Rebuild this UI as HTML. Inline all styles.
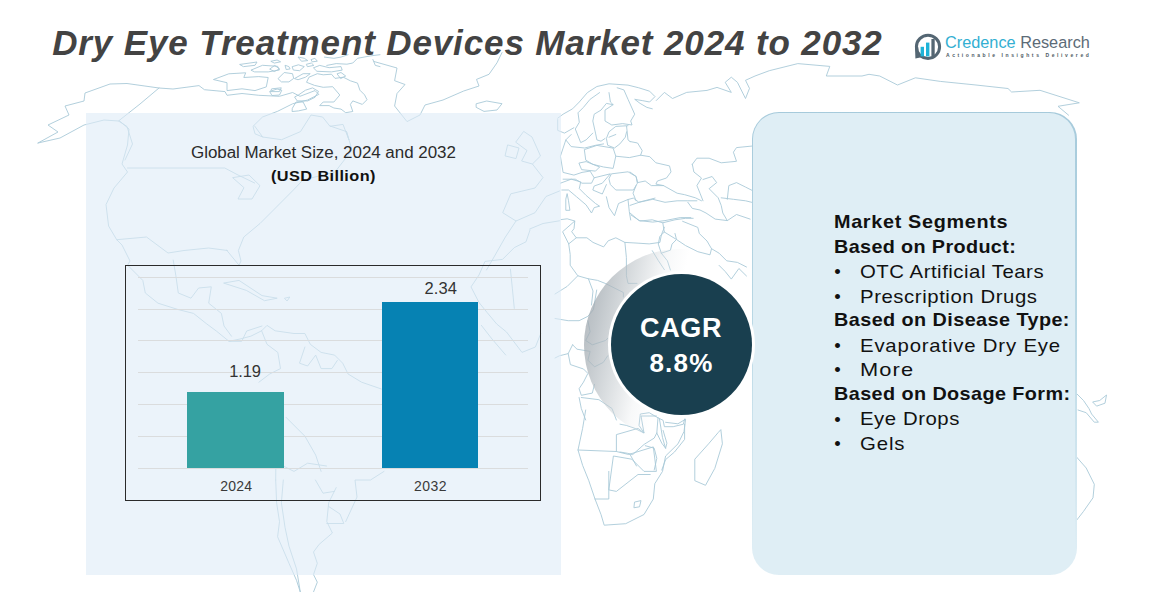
<!DOCTYPE html>
<html><head><meta charset="utf-8">
<style>
html,body{margin:0;padding:0;}
body{width:1173px;height:592px;position:relative;overflow:hidden;background:#fff;font-family:"Liberation Sans",sans-serif;}
.abs{position:absolute;}
.t{position:absolute;white-space:nowrap;line-height:1;}
.grid{position:absolute;left:138px;width:390px;height:1px;background:#dadcdd;}
</style></head>
<body>
<svg class="abs" style="left:0;top:0" width="1173" height="592" viewBox="0 0 1173 592"><g fill="none" stroke="#a9cad8" stroke-width="0.9" stroke-linejoin="round" stroke-linecap="round"><path d="M38.0 143.0 L58.0 132.0 L48.0 125.0 L69.0 115.0 L65.0 106.0 L84.0 101.0 L85.0 93.0 L110.0 84.0 L127.0 83.5 L159.0 88.0 L173.0 89.0 L199.0 85.6 L204.4 89.7 L225.0 91.6 L227.0 95.3 L242.0 93.5 L258.8 95.3 L279.4 96.3 L292.6 92.5 L300.0 96.3 L315.0 90.6 L318.8 94.4 L307.6 100.0 L292.6 103.8 L277.6 111.3 L262.5 117.0 L253.0 126.3 L255.0 133.8 L262.7 137.0 L281.6 139.7 L300.5 131.6 L311.0 115.0 L322.6 117.0 L330.0 126.3 L343.0 124.4 L349.0 140.0 L346.5 131.6"/><path d="M38.0 143.0 L60.0 138.0 L84.0 125.0 L104.0 120.0 L118.5 121.0 L127.0 126.5 L132.5 144.0 L125.0 160.0"/><path d="M159.0 88.0 L140.0 104.0 L118.5 121.0"/><path d="M213.8 79.4 L228.8 73.8 L245.7 72.8 L243.8 77.5 L258.8 76.6 L268.2 77.5 L266.3 86.9 L255.0 90.6 L242.0 88.8 L227.0 90.6 L227.0 83.1 Z"/><path d="M240.0 64.4 L257.0 62.0 L255.0 65.3 L243.8 66.6 Z"/><path d="M251.3 70.0 L262.5 65.3 L277.6 66.3 L279.4 70.0 L268.2 71.9 L255.0 71.9 Z"/><path d="M272.0 88.8 L281.3 87.8 L279.4 91.6 L271.0 91.6 Z"/><path d="M374.0 61.5 L397.0 68.0 L394.6 80.7 L405.0 84.5 L397.0 93.5 L394.6 106.0 L407.0 121.6 L420.0 115.0 L425.0 105.0 L443.0 100.0 L463.7 91.0 L479.0 86.0 L476.5 79.4 L489.0 74.3 L497.0 62.8 L502.0 52.6"/><path d="M476.5 103.7 L486.7 101.0 L502.0 103.7 L497.0 110.0 L484.0 111.4 L476.5 107.5 Z"/><path d="M119.4 120.8 L129.0 129.0 L127.5 145.0 L122.0 164.0 L127.5 172.0 L114.0 188.0 L106.0 204.6 L108.6 226.0 L116.7 239.7 L122.0 245.0 L130.0 261.0 L127.6 265.2 L142.8 280.4 L145.3 293.0 L158.0 303.2 L178.3 309.6 L193.5 313.4 L206.2 323.5 L216.3 331.0 L229.0 341.3 L241.7 341.3 L246.7 331.0 L262.0 326.0"/><path d="M127.5 168.0 L224.8 168.0 L238.0 175.0 L254.6 183.0"/><path d="M233.0 177.6 L249.0 175.0 L260.0 185.7 L252.0 199.0 L238.0 199.0 L243.8 188.0 Z"/><path d="M303.0 180.0 L292.4 191.0 L273.5 210.0 L260.0 223.5 L243.8 237.0 L238.4 250.5 L241.0 261.0 L239.0 265.2 L226.5 250.0 L227.5 250.5 L208.6 248.0 L184.0 250.5 L168.0 253.0 L146.5 237.0 L116.7 239.7"/><path d="M254.6 126.0 L262.7 137.0"/><path d="M330.0 126.0 L346.5 131.6 L352.0 150.0 L335.0 172.0 L303.0 180.0"/><path d="M173.2 260.0 L175.8 275.3 L178.3 293.0 L191.0 298.2 L198.6 288.0 L211.3 286.8 L208.7 303.2 L221.4 313.4 L224.0 326.0 L231.5 336.2"/><path d="M224.0 283.0 L239.0 280.4 L262.0 295.6 L277.2 298.2 L264.5 300.7 L246.7 290.6 Z"/><path d="M284.8 298.2 L289.8 297.0 L287.3 300.7 Z"/><path d="M384.0 471.4 L370.5 480.0 L355.0 480.0 L357.0 497.0 L345.7 521.6"/><path d="M275.7 480.0 L276.6 502.7 L279.5 521.6 L277.6 536.8 L289.0 563.3 L296.5 580.3 L300.3 592.0"/><path d="M283.3 480.0 L281.4 502.7 L285.0 527.3 L289.0 546.2 L296.5 568.9 L300.3 592.0"/><path d="M336.2 487.6 L328.7 502.7 L326.8 521.6 L332.4 533.0 L319.2 544.3 L313.5 552.0 L317.3 563.3 L313.5 574.6 L317.3 582.2 L313.5 592.0"/><path d="M328.7 506.5 L340.0 514.0 L343.8 523.5 L326.8 523.5"/><path d="M315.4 480.0 L323.0 493.2 L334.3 491.4"/><path d="M279.0 420.0 L276.0 450.0 L275.7 480.0"/><path d="M524.0 131.6 L532.0 137.0 L540.5 156.0 L532.4 164.0 L521.6 161.0 L527.0 150.5 L516.0 142.4 Z"/><path d="M508.0 145.0 L519.0 148.0 L516.0 158.6 L505.4 156.0 Z"/><path d="M532.4 164.0 L543.0 177.6 L535.0 188.0 L510.8 193.8 L502.7 212.7 L516.0 221.0 L535.0 212.7 L546.0 196.5 L559.5 191.0"/><path d="M516.0 221.0 L505.4 237.0 L494.6 256.0 L486.5 270.0"/><path d="M529.7 229.0 L543.0 223.5 L559.5 220.8"/><path d="M530.0 230.0 L526.0 241.8 L514.3 247.6 L502.5 259.4 L485.0 261.4 L479.0 275.0 L471.0 286.9 L479.0 302.5 L487.0 312.4 L496.7 324.0 L506.5 332.0 L522.0 352.4 L535.4 347.0 L540.8 333.5"/><path d="M510.4 269.2 L512.4 288.8 L514.3 308.4"/><path d="M481.4 325.4 L492.0 339.0 L505.7 355.0"/><path d="M656.3 100.5 L664.4 92.4 L672.5 98.5 L686.7 92.4 L707.0 90.4 L717.0 87.4 L731.3 92.4 L725.2 82.3 L731.3 77.2 L737.4 82.3 L745.5 98.5 L749.5 88.4 L745.5 80.3 L755.0 76.0 L769.3 70.7 L797.8 63.6 L829.8 66.4 L826.3 76.0 L862.0 76.0 L869.0 74.3 L879.7 76.0 L897.5 85.0 L915.4 77.8 L940.3 81.4 L976.0 85.0 L1008.0 88.5 L1011.6 92.0 L1040.0 90.3 L1079.3 102.8 L1058.0 106.3 L1068.6 115.2"/><path d="M585.7 410.0 L582.6 428.4 L578.0 450.0 L582.6 465.3 L588.8 480.7 L595.0 499.0 L601.0 514.5 L604.2 525.2 L625.7 523.7 L644.0 514.5 L653.3 499.0 L654.8 483.7 L662.5 471.4 L665.6 456.0 L678.0 443.8 L684.0 431.5 L685.6 419.2 L677.9 423.8 L665.6 422.3"/><path d="M720.9 430.0 L722.4 443.8 L714.8 468.4 L705.5 485.3 L694.8 480.7 L694.8 459.2 L708.6 443.8 L717.8 433.0 Z"/><path d="M578.0 450.0 L616.4 451.5 L628.7 454.5 L653.3 446.9 L656.4 471.4 L644.0 471.4 L631.8 459.2 L613.4 456.0 L608.8 489.9 L616.4 491.4 L638.0 474.5 L650.2 474.5"/><path d="M595.0 499.0 L608.8 499.0 L608.8 471.4"/><path d="M616.4 451.5 L616.4 434.6 L638.0 428.4 L644.0 433.0 L641.0 416.0 L656.4 416.0"/><path d="M659.5 419.2 L662.5 437.6 L665.6 448.4"/><path d="M634.9 502.0 L641.0 500.6 L639.5 506.8 L634.3 507.7 Z"/><path d="M1076.8 393.8 L1083.5 400.5 L1089.0 408.6 L1091.6 414.0 L1098.4 422.2 L1094.3 422.2 L1086.2 412.7 L1078.0 410.0"/><path d="M1093.0 401.9 L1099.7 400.5 L1106.5 395.0 L1105.0 403.2 L1097.0 406.0 Z"/><path d="M1076.8 457.3 L1086.2 468.0 L1094.3 484.3 L1093.0 497.8 L1083.5 511.4 L1076.8 520.0"/><path d="M557.7 118.2 L563.1 114.2 L572.6 108.8 L579.3 102.0 L587.4 92.6 L596.9 86.5 L609.0 83.8 L628.0 85.1 L638.8 87.8 L649.6 91.2 L655.0 96.6 L649.6 102.0 L642.8 100.7 L634.7 99.3 L640.1 103.4 L646.9 107.4 L652.3 108.8"/><path d="M599.6 92.6 L590.1 99.3 L583.4 107.4 L578.0 112.8 L579.3 122.3 L575.3 129.0 L580.7 142.6 L586.1 139.9 L592.8 133.1"/><path d="M557.7 119.6 L557.7 130.4 L564.5 133.1 L573.9 127.7"/><path d="M609.0 92.6 L610.4 102.0 L613.1 104.7 L606.4 103.4 L601.0 110.1 L594.2 114.2 L592.8 121.0 L595.5 133.1 L596.9 139.9 L601.0 141.2 L605.0 138.5"/><path d="M613.1 104.7 L605.0 110.1 L605.0 121.0 L611.8 125.0 L622.6 123.6 L632.0 125.0 L630.7 121.0 L634.7 114.2 L628.0 99.3 L623.9 89.9 L617.2 87.8"/><path d="M628.0 125.7 L615.8 126.4 L609.0 131.8 L606.4 138.5 L607.7 145.3 L614.5 148.0 L619.9 143.9 L625.3 137.2 L626.6 131.8"/><path d="M615.8 134.5 L609.0 137.2"/><path d="M626.6 126.4 L628.0 139.9 L630.0 141.5"/><path d="M571.2 134.5 L565.8 139.9 L571.2 146.6 L584.7 148.0 L595.5 145.3 L603.6 143.9"/><path d="M565.8 140.0 L563.1 148.1 L560.4 156.2 L563.1 172.4 L573.9 175.1 L582.0 172.4 L590.1 171.1 L594.2 177.8 L591.5 183.2 L582.0 183.2 L575.3 179.2 L563.1 179.2"/><path d="M584.7 149.5 L596.9 145.4 L613.1 148.1 L615.8 156.2 L613.1 168.4 L603.6 167.0 L592.8 164.3 L586.1 160.3 Z"/><path d="M579.3 163.0 L586.1 161.6 L599.6 167.0 L595.5 171.1 L582.0 169.7 Z"/><path d="M615.8 156.2 L629.3 157.6 L640.6 155.2"/><path d="M611.8 173.8 L628.0 171.8 L636.1 176.5 L637.4 183.2 L633.4 190.0 L615.8 190.0 L610.4 184.6 L609.0 179.2 Z"/><path d="M594.2 177.8 L610.4 173.8 L602.3 183.2 L594.2 186.0 L592.8 190.0 L602.3 194.0 L606.4 184.6"/><path d="M560.4 183.2 L571.2 179.2 L580.7 181.9 L579.3 188.6 L586.1 195.4 L595.5 203.5 L599.6 206.2 L594.2 207.6 L591.5 213.0 L586.1 204.9 L576.6 196.8 L568.5 190.0 L561.8 190.0"/><path d="M567.2 194.0 L568.5 200.8 L569.9 210.3 L565.8 210.3 L565.8 199.5 Z"/><path d="M606.4 196.8 L609.0 207.6 L614.5 215.7 L618.5 203.5 L628.0 199.5 L633.4 198.1 L638.8 202.2 L655.0 198.1"/><path d="M628.0 199.5 L629.3 211.6 L630.7 220.0"/><path d="M561.0 219.6 L567.2 218.8 L574.8 221.0 L574.0 228.7 L571.7 231.7 L576.3 237.8 L586.9 237.8 L593.0 242.4 L603.6 246.9 L608.2 240.8 L615.8 237.8 L624.9 242.4 L637.0 243.1 L649.2 243.9 L659.9 242.4 L661.4 234.8 L664.4 227.2"/><path d="M574.8 221.0 L562.6 231.7 L568.7 243.9 L576.3 237.8"/><path d="M568.7 243.9 L570.2 254.5 L570.2 265.2 L577.8 275.8 L588.4 278.8 L593.0 291.0 L591.5 305.0"/><path d="M577.8 275.8 L567.2 286.4 L555.0 294.0"/><path d="M588.4 278.8 L597.6 280.4 L605.2 283.4 L623.4 292.5 L623.4 297.0"/><path d="M624.9 242.4 L626.4 257.6 L626.4 275.8 L628.0 283.4 L637.0 283.4"/><path d="M652.3 250.7 L658.3 260.6 L664.4 269.7"/><path d="M631.0 215.0 L640.0 221.0 L652.2 219.8 L662.8 222.8 L675.0 219.8 L685.6 218.3 L693.2 218.3"/><path d="M662.8 222.8 L664.3 232.0 L659.8 236.5 L658.3 244.1 L661.3 253.2"/><path d="M675.0 233.5 L676.5 239.5 L672.0 244.1 L670.4 250.2 L661.3 253.2"/><path d="M682.6 221.3 L697.8 227.4 L699.3 233.5 L707.0 241.0 L711.5 248.7 L710.0 254.8 L697.8 251.7 L685.6 245.6 L676.5 239.5 L664.3 232.0"/><path d="M711.5 248.7 L719.1 253.2 L726.7 260.8 L737.4 262.4 L746.5 267.0"/><path d="M719.1 265.4 L725.2 271.5 L731.3 279.1 L738.9 268.5 L746.5 276.0"/><path d="M661.3 253.2 L667.4 260.8 L670.4 270.0"/><path d="M555.0 318.5 L568.2 320.7 L579.1 320.7 L587.9 316.3 L593.4 309.7 L596.7 290.0"/><path d="M587.9 320.7 L590.1 331.7 L585.7 340.5 L592.3 344.8 L605.5 340.5 L607.7 338.3"/><path d="M572.6 344.8 L568.2 353.6 L559.4 355.8 L555.0 358.0"/><path d="M572.6 344.8 L577.0 349.2 L590.1 351.4 L587.9 360.2 L594.5 366.8 L603.3 362.4 L607.7 355.8"/><path d="M568.2 353.6 L570.4 364.6 L583.5 369.0 L587.9 373.4 L583.5 382.1 L579.1 388.7 L581.3 395.3 L592.3 393.1 L594.5 384.3"/><path d="M579.1 397.5 L581.3 408.5 L585.7 420.0"/><path d="M581.3 397.5 L598.9 399.7 L612.0 408.5 L616.4 420.0"/><path d="M620.0 424.2 L626.3 425.4 L634.0 428.0 L644.1 433.0 L639.0 425.4 L640.3 414.0 L649.2 412.7 L658.0 417.8 L663.1 420.3 L664.4 426.7 L673.2 426.7 L683.4 424.2 L684.6 419.0"/><path d="M658.0 417.8 L656.8 433.0 L661.8 443.2 L665.6 448.2 L666.9 443.2 L663.1 430.5"/><path d="M684.6 424.2 L684.6 439.4 L674.5 452.0 L665.6 459.6 L661.8 470.0"/><path d="M620.0 452.0 L627.6 453.3 L632.7 454.6 L644.1 444.4 L654.2 438.1 L656.8 433.0"/><path d="M630.1 454.6 L636.5 466.0"/><path d="M645.3 445.7 L654.2 448.2 L656.8 458.4 L654.2 470.0"/><path d="M306.7 81.9 L309.0 77.2 L317.3 73.7 L323.2 74.8 L331.5 74.2 L335.0 78.4 L343.3 77.2 L350.4 80.8 L357.5 83.1 L359.9 90.2 L364.6 94.9 L367.0 99.7 L362.3 104.4 L352.8 100.9 L350.4 104.4 L352.8 111.5 L345.7 112.7 L341.0 109.1 L333.9 108.0 L329.1 105.6 L319.7 105.6 L323.2 102.0 L333.9 102.0 L339.8 95.0 L332.7 86.7 L323.2 87.3 L315.0 85.5 Z"/><path d="M292.5 108.0 L296.0 102.0 L303.1 102.0 L306.7 109.1 L298.4 110.9 L292.5 111.5 Z"/><path d="M298.4 95.0 L305.5 90.2 L312.6 87.9 L318.5 91.4 L315.0 97.3 L307.8 100.9 L297.2 100.9 L294.8 97.3 Z"/><path d="M278.3 78.4 L284.2 72.5 L292.5 73.7 L293.7 78.4 L288.9 81.9 L281.8 81.9 Z"/><path d="M270.0 91.4 L277.1 89.0 L281.8 90.2 L279.5 95.0 L272.4 95.5 Z"/><path d="M294.8 78.4 L303.1 73.7 L310.2 73.7 L305.5 77.2 L298.4 79.6 Z"/><path d="M292.5 66.6 L298.4 64.8 L304.3 66.6 L299.6 70.7 L293.7 70.1 Z"/><path d="M285.4 65.4 L288.9 66.6 L290.1 68.9 L286.6 69.5 Z"/><path d="M271.2 61.2 L277.1 60.0 L280.6 61.8 L274.7 63.0 Z"/><path d="M270.0 68.9 L274.7 65.4 L279.5 68.9 L274.7 71.3 Z"/><path d="M298.4 57.1 L304.3 58.3 L307.8 60.6 L301.9 61.2 Z"/><path d="M311.4 59.5 L314.9 58.3 L317.3 61.2 L312.6 61.8 Z"/><path d="M306.7 64.2 L311.4 63.0 L313.8 65.4 L307.8 66.6 Z"/><path d="M313.8 67.7 L319.7 65.4 L329.1 67.7 L341.0 66.6 L342.2 70.1 L331.5 71.9 L317.3 71.3 Z"/><path d="M337.4 73.7 L341.0 72.5 L345.7 76.0 L341.0 78.4 Z"/><path d="M326.8 65.4 L336.2 63.6 L346.9 64.2 L352.8 63.0 L357.5 58.3 L370.5 55.9 L380.0 54.7"/><path d="M324.4 57.1 L333.9 58.3 L341.0 57.1 L348.1 54.7"/><path d="M372.9 59.5 L375.3 65.4 L380.0 66.6"/><path d="M229.0 341.3 L240.0 339.0 L250.8 336.2 L261.6 330.8 L267.0 325.4 L275.1 330.8 L294.0 333.5 L304.9 333.5 L310.3 344.3 L321.1 352.4 L334.6 355.1 L342.7 363.2 L348.1 374.0 L361.6 382.2 L381.4 389.0"/><path d="M261.6 330.8 L267.0 344.3 L277.8 352.4 L280.5 368.6 L269.7 374.0 L258.9 382.2"/><path d="M304.9 347.0 L299.5 363.2 L307.6 366.0 L315.7 355.1 L321.1 368.6 L331.9 368.6 L337.3 360.5"/><path d="M286.0 417.3 L296.8 428.1 L304.9 436.2 L315.7 455.1 L321.1 471.4"/><path d="M283.2 466.0 L294.0 471.4 L307.6 463.2 L326.5 466.0"/><path d="M630.0 141.5 L637.6 143.0 L642.2 150.6 L640.6 155.2 L649.8 156.7 L655.9 162.8 L669.5 165.9 L671.0 171.9 L666.5 178.0 L657.4 181.0 L655.9 184.1 L663.5 185.6"/><path d="M630.0 172.0 L636.1 176.5 L637.6 182.6 L645.2 181.0 L651.3 185.6 L663.5 185.6 L677.1 193.2 L684.7 194.7 L695.4 197.8 L701.5 200.8"/><path d="M630.0 205.4 L639.1 202.3 L652.8 199.3 L665.0 202.3 L677.1 200.8 L687.8 200.8 L696.9 200.8"/><path d="M636.1 185.6 L633.0 193.2 L636.1 200.8"/><path d="M630.0 213.0 L639.1 220.6 L652.8 222.1 L665.0 220.6 L680.2 217.6 L690.8 217.6"/><path d="M687.8 202.3 L692.3 208.4 L700.0 210.0 L706.0 213.0 L715.2 219.1 L727.3 220.6 L736.5 214.5 L750.1 219.1"/><path d="M692.3 164.3 L696.9 158.2 L709.1 158.2 L721.2 162.8 L736.5 161.3 L733.4 152.2 L736.5 147.6 L751.7 146.1"/><path d="M692.3 164.3 L693.9 172.0 L701.5 178.0 L696.9 185.6 L700.0 193.2 L703.0 200.8"/><path d="M703.0 179.5 L712.1 176.5 L716.7 182.6 L709.1 188.7 L718.2 197.8 L721.2 205.4 L722.8 213.0 L727.3 220.6"/><path d="M727.3 199.3 L728.8 185.6 L736.5 182.6 L745.6 187.1 L751.7 190.2"/><path d="M721.2 197.8 L733.4 199.3 L745.6 200.8 L751.7 202.3"/></g></svg>
<div class="abs" style="left:86.3px;top:112.7px;width:474.5px;height:462px;background:rgba(223,236,247,0.62);"></div>
<div class="abs" style="left:584px;top:249px;width:192px;height:192px;border-radius:50%;background:linear-gradient(103deg,rgba(150,158,165,0.8) 0%,rgba(168,176,182,0.72) 12%,rgba(198,204,208,0.58) 25%,rgba(232,235,237,0.32) 36%,rgba(255,255,255,0) 45%);"></div>
<div class="abs" style="left:751.5px;top:111.5px;width:325px;height:463px;background:linear-gradient(180deg,#A6CADB 0%,#B9D8E5 45%,#DFEEF5 95%);border-radius:27px;"></div>
<div class="abs" style="left:752.7px;top:112.8px;width:322.6px;height:461px;background:#DFEEF5;border-radius:26px;"></div>
<div class="abs" style="left:607.5px;top:270.5px;width:147px;height:147px;border-radius:50%;background:#fff;"></div>
<div class="abs" style="left:610.5px;top:273.5px;width:141px;height:141px;border-radius:50%;background:#193F4F;"></div>
<div class="abs" style="left:125px;top:264.5px;width:414px;height:234px;border:1.5px solid #2a2a2a;"></div>
<div class="grid" style="top:277px"></div>
<div class="grid" style="top:308.5px"></div>
<div class="grid" style="top:340px"></div>
<div class="grid" style="top:372px"></div>
<div class="grid" style="top:404px"></div>
<div class="grid" style="top:436px"></div>
<div class="grid" style="top:468px"></div>
<div class="abs" style="left:187px;top:392px;width:96.5px;height:76px;background:#35A2A2;"></div>
<div class="abs" style="left:382.3px;top:301.5px;width:95.7px;height:166.5px;background:#0682B3;"></div>
<div class="t" style="left:52.2px;top:24.97px;font-size:35px;font-weight:bold;font-style:italic;letter-spacing:0.873px;color:#434343;transform:scaleX(1.0);transform-origin:0 0;">Dry Eye Treatment Devices Market 2024 to 2032</div>
<div class="t" style="left:190.6px;top:145.46px;font-size:16px;font-weight:normal;font-style:normal;letter-spacing:-0.029px;color:#2b2b2b;transform:scaleX(1.06);transform-origin:0 0;">Global Market Size, 2024 and 2032</div>
<div class="t" style="left:271.0px;top:167.88px;font-size:15.5px;font-weight:bold;font-style:normal;letter-spacing:0.397px;color:#111;transform:scaleX(1.05);transform-origin:0 0;">(USD Billion)</div>
<div class="t" style="left:229.3px;top:363.03px;font-size:16.5px;font-weight:normal;font-style:normal;letter-spacing:-0.201px;color:#333;transform:scaleX(1.0);transform-origin:0 0;">1.19</div>
<div class="t" style="left:424.5px;top:280.03px;font-size:16.5px;font-weight:normal;font-style:normal;letter-spacing:0.134px;color:#333;transform:scaleX(1.0);transform-origin:0 0;">2.34</div>
<div class="t" style="left:220.2px;top:478.55px;font-size:14px;font-weight:normal;font-style:normal;letter-spacing:0.266px;color:#3a3a3a;transform:scaleX(1.0);transform-origin:0 0;">2024</div>
<div class="t" style="left:414.0px;top:478.55px;font-size:14px;font-weight:normal;font-style:normal;letter-spacing:0.466px;color:#3a3a3a;transform:scaleX(1.0);transform-origin:0 0;">2032</div>
<div class="t" style="left:640.0px;top:315.14px;font-size:27px;font-weight:bold;font-style:normal;letter-spacing:0.666px;color:#fff;transform:scaleX(1.0);transform-origin:0 0;">CAGR</div>
<div class="t" style="left:649.4px;top:349.79px;font-size:26px;font-weight:bold;font-style:normal;letter-spacing:1.199px;color:#fff;transform:scaleX(1.0);transform-origin:0 0;">8.8%</div>
<div class="t" style="left:834.1px;top:213.34px;font-size:18.5px;font-weight:bold;font-style:normal;letter-spacing:0.641px;color:#111;transform:scaleX(1.07);transform-origin:0 0;">Market Segments</div>
<div class="t" style="left:834.1px;top:237.74px;font-size:18.5px;font-weight:bold;font-style:normal;letter-spacing:0.339px;color:#111;transform:scaleX(1.07);transform-origin:0 0;">Based on Product:</div>
<div class="t" style="left:834.3px;top:262.94px;font-size:18.5px;font-weight:normal;font-style:normal;letter-spacing:0.000px;color:#111;transform:scaleX(1.0);transform-origin:0 0;">&bull;</div>
<div class="t" style="left:859.5px;top:262.64px;font-size:18.5px;font-weight:normal;font-style:normal;letter-spacing:0.469px;color:#111;transform:scaleX(1.1);transform-origin:0 0;">OTC Artificial Tears</div>
<div class="t" style="left:834.3px;top:287.84px;font-size:18.5px;font-weight:normal;font-style:normal;letter-spacing:0.000px;color:#111;transform:scaleX(1.0);transform-origin:0 0;">&bull;</div>
<div class="t" style="left:859.5px;top:287.54px;font-size:18.5px;font-weight:normal;font-style:normal;letter-spacing:0.513px;color:#111;transform:scaleX(1.1);transform-origin:0 0;">Prescription Drugs</div>
<div class="t" style="left:834.1px;top:310.94px;font-size:18.5px;font-weight:bold;font-style:normal;letter-spacing:0.409px;color:#111;transform:scaleX(1.07);transform-origin:0 0;">Based on Disease Type:</div>
<div class="t" style="left:834.3px;top:337.04px;font-size:18.5px;font-weight:normal;font-style:normal;letter-spacing:0.000px;color:#111;transform:scaleX(1.0);transform-origin:0 0;">&bull;</div>
<div class="t" style="left:859.5px;top:336.74px;font-size:18.5px;font-weight:normal;font-style:normal;letter-spacing:0.737px;color:#111;transform:scaleX(1.1);transform-origin:0 0;">Evaporative Dry Eye</div>
<div class="t" style="left:834.3px;top:361.34px;font-size:18.5px;font-weight:normal;font-style:normal;letter-spacing:0.000px;color:#111;transform:scaleX(1.0);transform-origin:0 0;">&bull;</div>
<div class="t" style="left:859.5px;top:361.04px;font-size:18.5px;font-weight:normal;font-style:normal;letter-spacing:0.960px;color:#111;transform:scaleX(1.18);transform-origin:0 0;">More</div>
<div class="t" style="left:834.1px;top:384.84px;font-size:18.5px;font-weight:bold;font-style:normal;letter-spacing:0.393px;color:#111;transform:scaleX(1.07);transform-origin:0 0;">Based on Dosage Form:</div>
<div class="t" style="left:834.3px;top:410.54px;font-size:18.5px;font-weight:normal;font-style:normal;letter-spacing:0.000px;color:#111;transform:scaleX(1.0);transform-origin:0 0;">&bull;</div>
<div class="t" style="left:859.5px;top:410.24px;font-size:18.5px;font-weight:normal;font-style:normal;letter-spacing:0.500px;color:#111;transform:scaleX(1.1);transform-origin:0 0;">Eye Drops</div>
<div class="t" style="left:834.3px;top:434.94px;font-size:18.5px;font-weight:normal;font-style:normal;letter-spacing:0.000px;color:#111;transform:scaleX(1.0);transform-origin:0 0;">&bull;</div>
<div class="t" style="left:859.5px;top:434.64px;font-size:18.5px;font-weight:normal;font-style:normal;letter-spacing:0.788px;color:#111;transform:scaleX(1.1);transform-origin:0 0;">Gels</div>
<svg class="abs" style="left:908px;top:28px" width="40" height="36" viewBox="0 0 40 36">
<circle cx="20" cy="18.8" r="11.6" fill="none" stroke="#546673" stroke-width="3"/>
<path d="M7 18.8 L10.2 18.8 L10.6 26 L13.5 29.2 L7.4 30.6 Z" fill="#546673"/>
<rect x="12.6" y="18.8" width="3.4" height="9.6" fill="#1FB3D8"/>
<rect x="18" y="14.6" width="3.4" height="13.8" fill="#1FB3D8"/>
<rect x="23.4" y="11" width="3.3" height="17.6" fill="#546673"/>
</svg>
<div class="abs" style="left:945px;top:32px;font-size:16.3px;line-height:20px;white-space:nowrap;"><span style="color:#33AFD2">Credence</span> <span style="color:#5C6B77">Research</span></div>
<div class="abs" style="left:946px;top:52px;font-size:5px;line-height:6px;font-weight:bold;letter-spacing:2.6px;color:#4E5A63;white-space:nowrap;">Actionable Insights Delivered</div>
</body></html>
